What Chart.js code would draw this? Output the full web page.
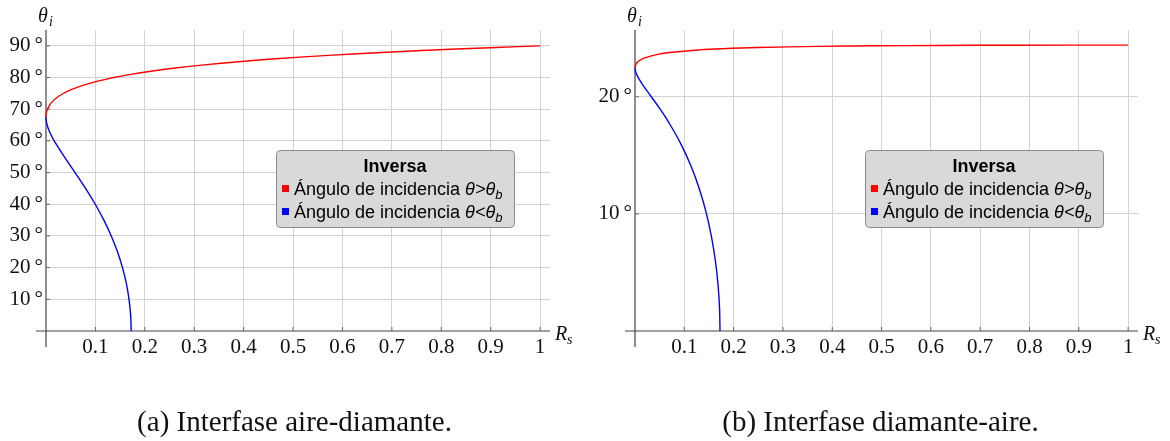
<!DOCTYPE html>
<html>
<head>
<meta charset="utf-8">
<script src="https://cdn.jsdelivr.net/npm/chart.js@4"></script>
<style>
  body { margin: 0; background: #fff; width: 1170px; height: 441px; position: relative; overflow: hidden; }
  .panel { position: absolute; top: 0; width: 585px; height: 441px; }
  .panel canvas { position: absolute; left: 0; top: 0; }
  .caption { position: absolute; top: 405px; left: 0; width: 585px; text-align: center;
             font: 29px "Liberation Serif", serif; line-height: 33px; color: #111; }
</style>
</head>
<body>
<div class="panel" style="left:0">
  <canvas id="chartA" width="585" height="441"></canvas>
  <div class="caption" style="left:2px">(a) Interfase aire-diamante.</div>
</div>
<div class="panel" style="left:585px">
  <canvas id="chartB" width="585" height="441"></canvas>
  <div class="caption" style="left:3px">(b) Interfase diamante-aire.</div>
</div>
<script>
// reflectance (x) vs incidence angle in degrees (y)

// (a) aire -> diamante
const aAboveTheta = [67.55, 68, 69, 70, 72, 74, 76, 78, 80, 81, 82, 83, 84, 85, 86, 87, 88, 89, 89.5, 90];
const aAboveR = [0, 0.0001, 0.001, 0.0029, 0.0106, 0.025, 0.0485, 0.0843, 0.1368, 0.1712, 0.2123, 0.2614,
  0.3199, 0.3895, 0.4724, 0.5713, 0.6894, 0.8306, 0.9114, 1];
const aBelowTheta = [67.55, 66, 64, 62, 60, 55, 50, 45, 40, 35, 30, 25, 20, 15, 10, 5, 0];
const aBelowR = [0, 0.0009, 0.0044, 0.0098, 0.0166, 0.0369, 0.0588, 0.0801, 0.0997, 0.1171, 0.1321, 0.1447,
  0.1548, 0.1626, 0.168, 0.1713, 0.1724];

// (b) diamante -> aire
const bAboveTheta = [22.45, 22.8, 23, 23.3, 23.6, 23.8, 24.0, 24.1, 24.2, 24.3, 24.35, 24.38, 24.4, 24.41];
const bAboveR = [0, 0.0022, 0.0061, 0.0182, 0.0437, 0.0754, 0.1316, 0.1778, 0.2485, 0.3735, 0.4899, 0.6118, 0.7739, 1];
const bBelowTheta = [22.45, 22, 21.5, 21, 20, 19, 18, 16, 14, 12, 10, 8, 6, 4, 2, 0];
const bBelowR = [0, 0.0023, 0.0084, 0.0161, 0.0332, 0.05, 0.0657, 0.0927, 0.1144, 0.1315, 0.145, 0.1553,
  0.163, 0.1683, 0.1714, 0.1724];

// axes
const xTicks = [0.1, 0.2, 0.3, 0.4, 0.5, 0.6, 0.7, 0.8, 0.9, 1];
const xTickLabels = ['0.1', '0.2', '0.3', '0.4', '0.5', '0.6', '0.7', '0.8', '0.9', '1'];
const aYTicks = [10, 20, 30, 40, 50, 60, 70, 80, 90];
const bYTicks = [10, 20];

// legend
const legendTitle = 'Inversa';
const legendItems = [
  { color: '#ff0000', text: 'Ángulo de incidencia ', math: 'θ>θ', sub: 'b' },
  { color: '#0000ff', text: 'Ángulo de incidencia ', math: 'θ<θ', sub: 'b' }
];

const serif = '"Liberation Serif", "Times New Roman", serif';
const sans = '"Liberation Sans", Arial, sans-serif';

function toPoints(rs, thetas) {
  return rs.map((r, i) => ({ x: r, y: thetas[i] }));
}

const axesPlugin = {
  id: 'axes',
  beforeDatasetsDraw(chart) {
    const { ctx, chartArea: a, scales: { x, y } } = chart;
    const x0 = x.getPixelForValue(0), y0 = y.getPixelForValue(0);
    ctx.save();
    ctx.strokeStyle = '#444';
    ctx.lineWidth = 1.2;
    ctx.beginPath();
    ctx.moveTo(x0 - 10, y0); ctx.lineTo(a.right, y0);
    ctx.moveTo(x0, a.top); ctx.lineTo(x0, y0 + 16);
    ctx.stroke();
    ctx.lineWidth = 1;
    ctx.strokeStyle = '#666';
    ctx.beginPath();
    x.ticks.forEach(t => { const px = x.getPixelForValue(t.value); ctx.moveTo(px, y0); ctx.lineTo(px, y0 - 4); });
    y.ticks.forEach(t => { const py = y.getPixelForValue(t.value); ctx.moveTo(x0, py); ctx.lineTo(x0 + 4, py); });
    ctx.stroke();
    ctx.restore();
  },
  afterDraw(chart) {
    const { ctx, chartArea: a, scales: { x, y } } = chart;
    const x0 = x.getPixelForValue(0), y0 = y.getPixelForValue(0);
    ctx.save();
    ctx.fillStyle = '#111';
    ctx.textBaseline = 'alphabetic';
    // axis names
    ctx.font = 'italic 20px ' + serif;
    ctx.fillText('θ', x0 - 8, a.top - 8);
    ctx.fillText('R', a.right + 5, y0 + 9);
    ctx.font = 'italic 14px ' + serif;
    ctx.fillText('i', x0 + 3, a.top - 4);
    ctx.fillText('s', a.right + 17, y0 + 13);

    // legend box
    const bx = a.left + 230, by = a.top + 120, bw = 238, bh = 77;
    ctx.beginPath();
    ctx.roundRect(bx + 0.5, by + 0.5, bw, bh, 4);
    ctx.fillStyle = '#d9d9d9';
    ctx.fill();
    ctx.strokeStyle = '#8c8c8c';
    ctx.lineWidth = 1;
    ctx.stroke();

    ctx.fillStyle = '#000';
    ctx.font = 'bold 18px ' + sans;
    ctx.textAlign = 'center';
    ctx.fillText(legendTitle, bx + bw / 2, by + 22);
    ctx.textAlign = 'left';
    legendItems.forEach((it, i) => {
      const base = by + 45 + i * 23;
      ctx.fillStyle = it.color;
      ctx.fillRect(bx + 6, base - 10, 7, 7);
      ctx.fillStyle = '#000';
      let tx = bx + 18;
      ctx.font = '18px ' + sans;
      ctx.fillText(it.text, tx, base);
      tx += ctx.measureText(it.text).width;
      ctx.font = 'italic 18px ' + sans;
      ctx.fillText(it.math, tx, base);
      tx += ctx.measureText(it.math).width;
      ctx.font = 'italic 13px ' + sans;
      ctx.fillText(it.sub, tx, base + 4);
    });
    ctx.restore();
  }
};

function makeChart(id, cfg) {
  const tickFont = { family: serif, size: 21 };
  return new Chart(document.getElementById(id), {
    type: 'line',
    data: {
      datasets: [
        { data: toPoints(cfg.aboveR, cfg.aboveTheta), borderColor: '#ff0000' },
        { data: toPoints(cfg.belowR, cfg.belowTheta), borderColor: '#0000ff' }
      ].map(d => Object.assign(d, { borderWidth: 1.4, pointRadius: 0, tension: 0.4, fill: false, clip: false }))
    },
    options: {
      responsive: false,
      animation: false,
      events: [],
      layout: { padding: { top: 30, right: cfg.padRight, bottom: 80, left: 0 } },
      plugins: { legend: { display: false }, tooltip: { enabled: false } },
      scales: {
        x: {
          type: 'linear', min: 0, max: 1.02,
          afterBuildTicks: s => { s.ticks = xTicks.map(v => ({ value: v })); },
          afterFit: s => { s.height = 30; },
          ticks: { callback: (v, i) => xTickLabels[i], font: tickFont, color: '#111', padding: 4,
                   autoSkip: false, maxRotation: 0 },
          grid: { color: '#d2d2d2', lineWidth: 1, drawTicks: false },
          border: { display: false }
        },
        y: {
          type: 'linear', min: 0, max: cfg.yMax,
          afterBuildTicks: s => { s.ticks = cfg.yTicks.map(v => ({ value: v })); },
          afterFit: s => { s.width = cfg.yWidth; },
          ticks: { callback: (v, i) => cfg.yTicks[i] + '\u2009°', font: tickFont, color: '#111', padding: 3,
                   autoSkip: false },
          grid: { color: '#d2d2d2', lineWidth: 1, drawTicks: false },
          border: { display: false }
        }
      }
    },
    plugins: [axesPlugin]
  });
}

makeChart('chartA', {
  aboveR: aAboveR, aboveTheta: aAboveTheta, belowR: aBelowR, belowTheta: aBelowTheta,
  yTicks: aYTicks, yMax: 95, yWidth: 46, padRight: 35
});
makeChart('chartB', {
  aboveR: bAboveR, aboveTheta: bAboveTheta, belowR: bBelowR, belowTheta: bBelowTheta,
  yTicks: bYTicks, yMax: 25.7, yWidth: 50, padRight: 32
});
</script>
</body>
</html>
